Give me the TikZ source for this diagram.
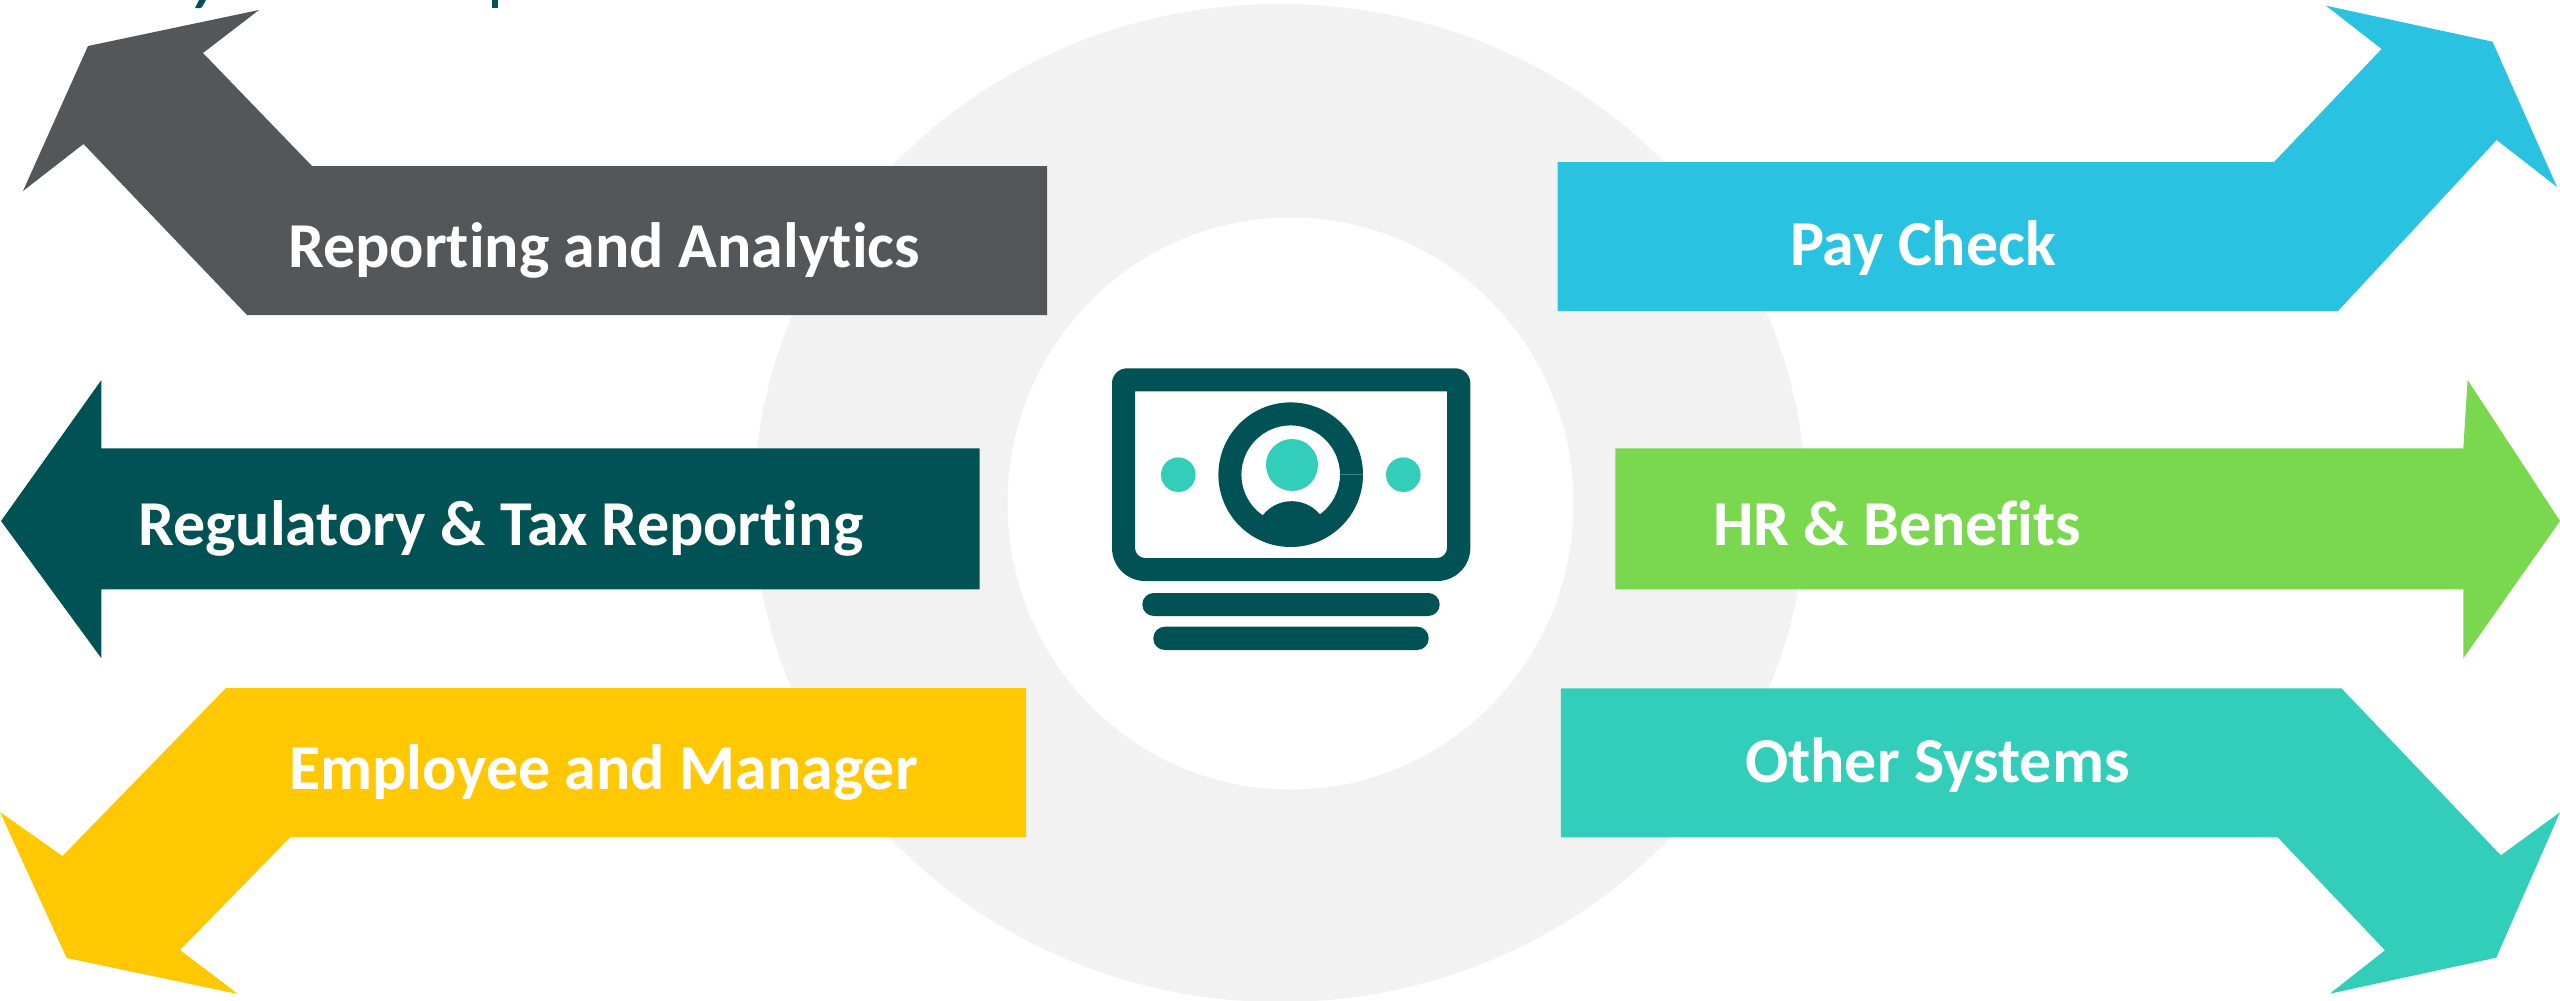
\documentclass[tikz,border=0pt]{standalone}
\usepackage{fontspec}
\setmainfont{Carlito}[Ligatures=NoCommon]
\definecolor{cgray}{HTML}{53575A}
\definecolor{cdark}{HTML}{015254}
\definecolor{cyellow}{HTML}{FFC800}
\definecolor{cblue}{HTML}{29C2E0}
\definecolor{cgreen}{HTML}{7AD84F}
\definecolor{cteal}{HTML}{33CEB9}
\definecolor{chalo}{HTML}{F2F2F2}
\tikzset{
  label text/.style={text=white,anchor=base west,inner sep=0pt,outer sep=0pt,font=\fontsize{32}{38}\selectfont\bfseries},
  icon dark/.style={fill=cdark,draw=none},
  icon light/.style={fill=cteal,draw=none},
}
\begin{document}
\begin{tikzpicture}[x=0.5pt,y=-0.5pt]
\useasboundingbox (0,0) rectangle (2560,1001);
\clip (0,0) rectangle (2560,1001);
\fill[white] (0,0) rectangle (2560,1001);
% background discs
\fill[chalo] (1280,503) ellipse [x radius=526,y radius=499];
\fill[white] (1290.5,503.5) ellipse [x radius=283,y radius=286];
% cropped descenders of a title above the frame
\fill[cdark] (199,0) -- (206,0) -- (202,7) -- (200,8) -- (195,8) -- cycle;
\fill[cdark] (491.5,0) -- (498,0) -- (498,8) -- (491.5,8) -- cycle;
% arrows
\fill[cgray] (1047,166) -- (312,166) -- (203,53) -- (259,10) -- (88,46) -- (23,191) -- (83.5,144) -- (247,315) -- (1047,315) -- cycle;
\fill[cdark] (979.6,448.3) -- (101.4,448.3) -- (101.4,380) -- (1,521) -- (101.4,658.3) -- (101.4,589.3) -- (979.6,589.3) -- cycle;
\fill[cyellow] (1026,688) -- (226,688) -- (62.5,856) -- (0,812) -- (66.7,958) -- (238,994) -- (180,950) -- (290.5,837) -- (1026,837) -- cycle;
\fill[cblue] (1557.5,162) -- (2274,162) -- (2381.6,49) -- (2326,5.7) -- (2492.5,41.7) -- (2557,187) -- (2496.6,140) -- (2338,311) -- (1557.5,311) -- cycle;
\fill[cgreen] (1615.3,448.3) -- (2463.3,448.3) -- (2467.6,380) -- (2560,521) -- (2463.3,658.3) -- (2463.3,589.3) -- (1615.3,589.3) -- cycle;
\fill[cteal] (1560.8,688.3) -- (2341.4,688.3) -- (2500.8,855.3) -- (2560,812.3) -- (2496.2,957.7) -- (2329.7,993.7) -- (2385,950.3) -- (2277.7,837.3) -- (1560.8,837.3) -- cycle;
% labels
\node[label text] (reporting) at (288,267) {Reporting and Analytics};
\node[label text] (regulatory) at (138,545) {Regulatory \& Tax Reporting};
\node[label text] (employee) at (289,789) {Employee and Manager};
\node[label text] (paycheck) at (1790,265) {Pay Check};
\node[label text] (hr) at (1713,545) {HR \& Benefits};
\node[label text] (other) at (1745,782) {Other Systems};
% banknote icon
\path[icon dark,even odd rule]
  [rounded corners=7.5pt] (1112,470) -- (1112,368.3) -- (1470.3,368.3) -- (1470.3,470)
  [rounded corners=16.5pt] -- (1470.3,581) -- (1112,581) -- cycle
  [sharp corners] (1135,470) -- (1135,391.3) -- (1447,391.3) -- (1447,470)
  [rounded corners=5pt] -- (1447,558) -- (1135,558) -- cycle;
\path[icon dark,even odd rule] (1290.7,474.7) circle [radius=72.3] (1290.7,474.7) circle [radius=49.3];
\begin{scope}
  \clip (1290.7,474.7) circle [radius=50];
  \fill[cdark] (1291.7,538) circle [radius=36.8];
\end{scope}
\draw[color=cdark!75!white,line width=0.4pt] (1340,474.7) -- (1363,474.7);
\path[icon light] (1292,465) circle [radius=26];
\path[icon light] (1178.3,474.7) circle [radius=17.3];
\path[icon light] (1403.3,474.7) circle [radius=17.3];
\path[icon dark,rounded corners=5.75pt] (1142.3,593) rectangle (1439.7,616);
\path[icon dark,rounded corners=5.75pt] (1153.3,626.7) rectangle (1428.7,650);
\end{tikzpicture}
\end{document}
